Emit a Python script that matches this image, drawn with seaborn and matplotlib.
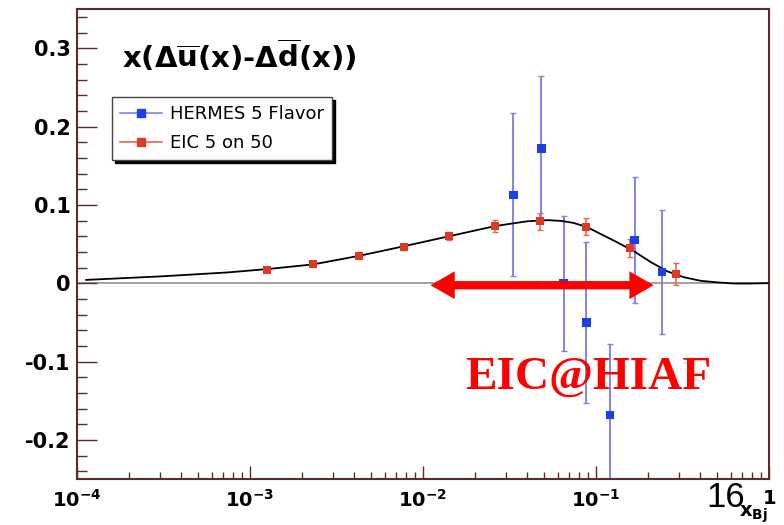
import matplotlib
matplotlib.use("Agg")
import matplotlib.pyplot as plt
import seaborn as sns
from matplotlib.lines import Line2D
from matplotlib.ticker import FixedLocator, FixedFormatter, LogLocator, NullFormatter, MultipleLocator

# HERMES 5-flavor extraction
hermes_x = [0.0333, 0.0484, 0.065, 0.088, 0.120, 0.167, 0.240]
hermes_y = [0.113, 0.172, 0.000, -0.050, -0.168, 0.055, 0.014]
hermes_err = [0.104, 0.092, 0.086, 0.103, 0.090, 0.080, 0.079]

# EIC 5 on 50 projection
eic_x = [1.26e-3, 2.32e-3, 4.29e-3, 7.8e-3, 1.42e-2, 2.62e-2, 4.72e-2, 8.8e-2, 0.158, 0.289]
eic_y = [0.017, 0.024, 0.035, 0.046, 0.060, 0.073, 0.079, 0.072, 0.045, 0.0115]
eic_err = [0.002, 0.002, 0.002, 0.003, 0.005, 0.008, 0.011, 0.011, 0.011, 0.014]

# parametrisation curve
curve_x = [1.13e-4, 3.0e-4, 7.4e-4, 1.26e-3, 2.32e-3, 4.29e-3, 7.7e-3, 1.42e-2,
           2.62e-2, 4.0e-2, 5.25e-2, 6.3e-2, 7.4e-2, 8.8e-2, 0.106, 0.133, 0.165,
           0.207, 0.259, 0.321, 0.403, 0.506, 0.625, 0.785, 0.984]
curve_y = [0.0042, 0.0086, 0.0137, 0.018, 0.024, 0.035, 0.047, 0.060,
           0.073, 0.079, 0.0805, 0.0795, 0.077, 0.072, 0.063, 0.052, 0.041,
           0.027, 0.015, 0.0077, 0.003, 0.001, -0.0004, -0.0004, 0.0]

# x range covered by EIC@HIAF
reach_x = [0.01104, 0.2155]
reach_y = -0.0026

xtick_values = [1e-4, 1e-3, 1e-2, 1e-1, 1]
xtick_labels = [r"$\mathbf{10^{-4}}$", r"$\mathbf{10^{-3}}$", r"$\mathbf{10^{-2}}$",
                r"$\mathbf{10^{-1}}$", r"$\mathbf{1}$"]
ytick_values = [-0.2, -0.1, 0.0, 0.1, 0.2, 0.3]
ytick_labels = ["-0.2", "-0.1", "0", "0.1", "0.2", "0.3"]

series_labels = ["HERMES 5 Flavor", "EIC 5 on 50"]

plt.rcParams["font.family"] = ["DejaVu Sans"]
plt.rcParams["mathtext.fontset"] = "dejavusans"

BLUE = "#1c3fe6"
BLUE_BAR = "#8282ea"
RED = "#dc3a22"
RED_BAR = "#e36a55"
FRAME = "#5b2c2c"

fig = plt.figure(figsize=(7.84, 5.25), dpi=100)
ax = fig.add_axes([0.0982, 0.0876, 0.8827, 0.8952])

ax.set_xscale("log")
ax.set_xlim(1e-4, 1)
ax.set_ylim(-0.25, 0.35)

ax.axhline(0, color="#9a9a9a", lw=1.3, zorder=1)

sns.lineplot(x=curve_x, y=curve_y, color="black", lw=1.3, sort=False,
             estimator=None, ax=ax, zorder=3)

ax.errorbar(eic_x, eic_y, yerr=eic_err, fmt="none", ecolor=RED_BAR,
            elinewidth=1.2, capsize=2.5, capthick=1.0, zorder=2)
ax.errorbar(hermes_x, hermes_y, yerr=hermes_err, fmt="none", ecolor=BLUE_BAR,
            elinewidth=1.4, capsize=2.0, capthick=1.0, zorder=2)

sns.scatterplot(x=eic_x, y=eic_y, marker="s", s=34, color=RED,
                edgecolor="none", ax=ax, zorder=4)
sns.scatterplot(x=hermes_x, y=hermes_y, marker="s", s=36, color=BLUE,
                edgecolor="none", ax=ax, zorder=5)

# double-headed arrow: two filled arrows pointing outward from the middle
mid_x = (reach_x[0] * reach_x[1]) ** 0.5
for end_x in reach_x:
    ax.annotate("", xy=(end_x, reach_y), xytext=(mid_x, reach_y),
                arrowprops=dict(arrowstyle="simple,head_length=1.75,head_width=2.0,tail_width=0.6",
                                color="red", lw=0, mutation_scale=10,
                                shrinkA=0, shrinkB=0),
                zorder=6)

# axes frame and ticks
for side in ["left", "right", "top", "bottom"]:
    ax.spines[side].set_color(FRAME)
    ax.spines[side].set_linewidth(1.5)

ax.xaxis.set_major_locator(FixedLocator(xtick_values))
ax.xaxis.set_major_formatter(FixedFormatter(xtick_labels))
ax.xaxis.set_minor_locator(LogLocator(base=10, subs=range(2, 10), numticks=20))
ax.xaxis.set_minor_formatter(NullFormatter())
ax.yaxis.set_major_locator(FixedLocator(ytick_values))
ax.yaxis.set_major_formatter(FixedFormatter(ytick_labels))
ax.yaxis.set_minor_locator(MultipleLocator(0.02))

ax.tick_params(axis="x", which="major", direction="in", length=9.5, width=1.0,
               color=FRAME, labelsize=14, pad=7, top=False)
ax.tick_params(axis="x", which="minor", direction="in", length=5, width=1.0,
               color=FRAME, top=False)
ax.tick_params(axis="y", which="major", direction="in", length=14.5, width=1.0,
               color=FRAME, labelsize=15, pad=4.5, right=False)
ax.tick_params(axis="y", which="minor", direction="in", length=7.5, width=1.0,
               color=FRAME, right=False)
for lab in ax.get_yticklabels():
    lab.set_fontweight("bold")

ax.set_xlabel("")
ax.set_ylabel("")

# legend with drop shadow
handles = [
    Line2D([], [], color=BLUE_BAR, lw=1.2, marker="s", markersize=6,
           markerfacecolor=BLUE, markeredgecolor=BLUE),
    Line2D([], [], color=RED_BAR, lw=1.2, marker="s", markersize=6,
           markerfacecolor=RED, markeredgecolor=RED),
]
leg = ax.legend(handles, series_labels, loc="upper left",
                bbox_to_anchor=(0.0506, 0.8128), borderaxespad=0,
                frameon=True, fancybox=False, framealpha=1,
                edgecolor="#444444", shadow={"color": "black", "alpha": 1},
                prop={"family": "DejaVu Sans", "size": 13},
                handlelength=2.3, handletextpad=0.45, labelspacing=0.6,
                borderpad=0.45)
leg.get_frame().set_linewidth(1.0)

# panel title
fig.text(122 / 784, 1 - 68 / 525,
         r"$\mathbf{x(\Delta\overline{u}(x)}$-$\mathbf{\Delta\overline{d}(x))}$",
         fontsize=21, fontweight="bold", ha="left", va="baseline", color="black")

fig.text(0.5931, 0.259, "EIC@HIAF", family="Liberation Serif", weight="bold",
         size=34, color="red", ha="left", va="baseline")

fig.text(706 / 784, 1 - 507 / 525, "16", family="Liberation Sans", size=25,
         color="black", ha="left", va="baseline")

fig.text(768 / 784, 1 - 517 / 525, r"$\mathbf{x_{Bj}}$", fontsize=14,
         ha="right", va="baseline", color="black")

fig.savefig("out.png", dpi=100, facecolor="white")
